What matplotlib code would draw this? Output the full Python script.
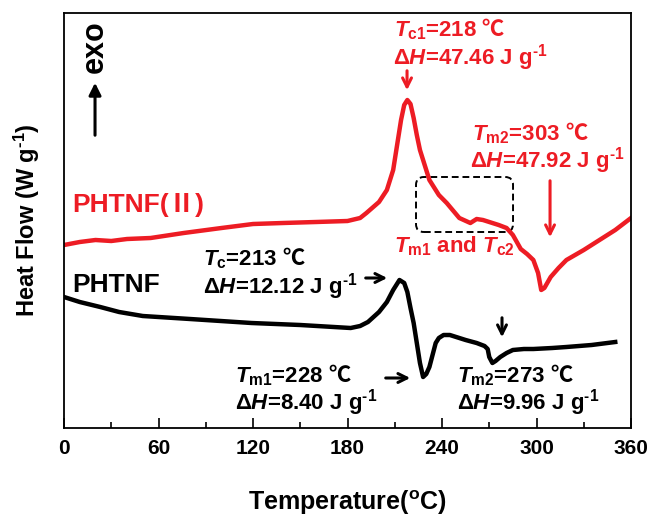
import matplotlib as mpl
import matplotlib.pyplot as plt
from matplotlib.patches import FancyBboxPatch
from matplotlib.ticker import MultipleLocator

mpl.rcParams['font.family'] = ['Liberation Sans', 'Noto Sans CJK SC']
mpl.rcParams['font.weight'] = 'bold'
mpl.rcParams['axes.labelweight'] = 'bold'
mpl.rcParams['mathtext.fontset'] = 'custom'
mpl.rcParams['mathtext.rm'] = 'Liberation Sans:bold'
mpl.rcParams['mathtext.bf'] = 'Liberation Sans:bold'
mpl.rcParams['mathtext.it'] = 'Liberation Sans:italic:bold'
mpl.rcParams['mathtext.sf'] = 'Noto Sans CJK SC:regular'

RED = '#ed1c24'

# PHTNF(II) trace
t_red = [0, 10, 20, 30, 40, 55, 76, 100, 120, 139, 160, 180, 188, 192, 200, 205,
         209, 211, 214, 216, 218, 220, 222, 224, 226, 228, 232, 238, 243, 251,
         258, 262, 266, 270, 276, 281, 285, 290, 294, 298, 301, 303, 305, 309,
         314, 319, 330, 340, 350, 360]
hf_red = [1.83, 1.86, 1.88, 1.87, 1.89, 1.90, 1.95, 2.00, 2.04, 2.05, 2.06, 2.07,
          2.10, 2.15, 2.26, 2.38, 2.58, 2.78, 3.08, 3.23, 3.28, 3.24, 3.10, 2.93,
          2.78, 2.68, 2.48, 2.33, 2.25, 2.10, 2.05, 2.09, 2.08, 2.06, 2.03, 2.00,
          1.93, 1.79, 1.74, 1.68, 1.55, 1.38, 1.40, 1.51, 1.60, 1.68, 1.78, 1.88,
          1.98, 2.10]

# PHTNF trace
t_blk = [0, 10, 23, 35, 50, 80, 119, 150, 182, 188, 193, 200, 205, 209, 213, 216,
         218, 220, 222, 224, 226, 228, 230, 232, 234, 236, 238, 241, 245, 249, 255,
         262, 267, 269, 270, 272, 274, 277, 281, 285, 292, 298, 310, 319, 335, 350]
hf_blk = [1.31, 1.26, 1.21, 1.16, 1.12, 1.09, 1.05, 1.03, 1.00, 1.02, 1.06, 1.16,
          1.26, 1.38, 1.48, 1.45, 1.36, 1.20, 1.05, 0.85, 0.65, 0.51, 0.54, 0.61,
          0.73, 0.85, 0.90, 0.93, 0.93, 0.91, 0.88, 0.85, 0.82, 0.79, 0.71, 0.65,
          0.67, 0.71, 0.75, 0.78, 0.79, 0.79, 0.80, 0.81, 0.83, 0.86]

xticks = [0, 60, 120, 180, 240, 300, 360]

fig = plt.figure(figsize=(6.52, 5.16), dpi=100)
ax = fig.add_axes([64 / 652, 1 - 428 / 516, 567 / 652, 415 / 516])

ax.plot(t_red, hf_red, color=RED, lw=3.2, solid_joinstyle='round')
ax.plot(t_blk, hf_blk, color='black', lw=3.2, solid_joinstyle='round')

ax.set_xlim(0, 360)
ax.set_ylim(0, 4.15)
ax.set_xticks(xticks)
ax.xaxis.set_minor_locator(MultipleLocator(30))
ax.set_yticks([])
ax.tick_params(axis='x', which='both', direction='in', top=False, labelsize=15, pad=8)
ax.tick_params(axis='x', which='major', length=7, width=1.2)
ax.tick_params(axis='x', which='minor', length=4, width=1.2)
for s in ax.spines.values():
    s.set_linewidth(1.3)

sup_m1 = '$^{\\text{-1}}$'
ax.set_xlabel('Temperature($^{\\mathbf{o}}$C)', fontsize=18, labelpad=22)
ax.set_ylabel('Heat Flow (W g' + sup_m1 + ')', fontsize=17, labelpad=16)

# exo arrow
ax.text(19.7, 3.81, 'exo', rotation=90, fontsize=22, ha='center', va='center')
ax.annotate('', xy=(19.7, 3.48), xytext=(19.7, 2.90),
            arrowprops=dict(arrowstyle='-|>', color='black', lw=2.2,
                            mutation_scale=18))

# sample labels
ax.text(5.1, 2.23, 'PHTNF(Ⅱ)', color=RED, fontsize=19, va='center')
ax.text(5.1, 1.43, 'PHTNF', color='black', fontsize=19, va='center')

fs = 16
deg = '$\\mathsf{℃}$'
arr = dict(arrowstyle='->', lw=2.2, mutation_scale=16)

# red annotations
ax.text(209.5, 3.92, '$\\mathit{T}_{\\mathbf{c1}}$=218 ' + deg, color=RED, fontsize=fs)
ax.text(208.9, 3.64, 'Δ$\\mathit{H}$=47.46 J g' + sup_m1, color=RED, fontsize=fs)
ax.annotate('', xy=(217.8, 3.35), xytext=(217.8, 3.60),
            arrowprops=dict(arr, color=RED))

ax.text(259, 2.88, '$\\mathit{T}_{\\mathbf{m2}}$=303 ' + deg, color=RED, fontsize=fs)
ax.text(257.8, 2.60, 'Δ$\\mathit{H}$=47.92 J g' + sup_m1, color=RED, fontsize=fs)
ax.annotate('', xy=(308.6, 1.88), xytext=(308.6, 2.50),
            arrowprops=dict(arr, color=RED))

box = FancyBboxPatch((223.5, 1.96), 61.6, 0.55,
                     boxstyle='round,pad=0,rounding_size=5',
                     mutation_aspect=1.575 / 100, fill=False,
                     ec='black', lw=1.4, ls=(0, (3.5, 2)))
ax.add_patch(box)
ax.text(209.5, 1.76, '$\\mathit{T}_{\\mathbf{m1}}$ and $\\mathit{T}_{\\mathbf{c2}}$',
        color=RED, fontsize=fs)

# black annotations
ax.text(88.3, 1.63, '$\\mathit{T}_{\\mathbf{c}}$=213 ' + deg, fontsize=fs)
ax.text(88.3, 1.35, 'Δ$\\mathit{H}$=12.12 J g' + sup_m1, fontsize=fs)
ax.annotate('', xy=(207, 1.50), xytext=(189.8, 1.50),
            arrowprops=dict(arr, color='black'))

ax.text(108.6, 0.46, '$\\mathit{T}_{\\mathbf{m1}}$=228 ' + deg, fontsize=fs)
ax.text(108.6, 0.19, 'Δ$\\mathit{H}$=8.40 J g' + sup_m1, fontsize=fs)
ax.annotate('', xy=(221.6, 0.50), xytext=(202.5, 0.50),
            arrowprops=dict(arr, color='black'))

ax.text(249.5, 0.46, '$\\mathit{T}_{\\mathbf{m2}}$=273 ' + deg, fontsize=fs)
ax.text(249.5, 0.19, 'Δ$\\mathit{H}$=9.96 J g' + sup_m1, fontsize=fs)
ax.annotate('', xy=(278.1, 0.88), xytext=(278.1, 1.13),
            arrowprops=dict(arr, color='black'))

fig.savefig('out.png', dpi=100)
